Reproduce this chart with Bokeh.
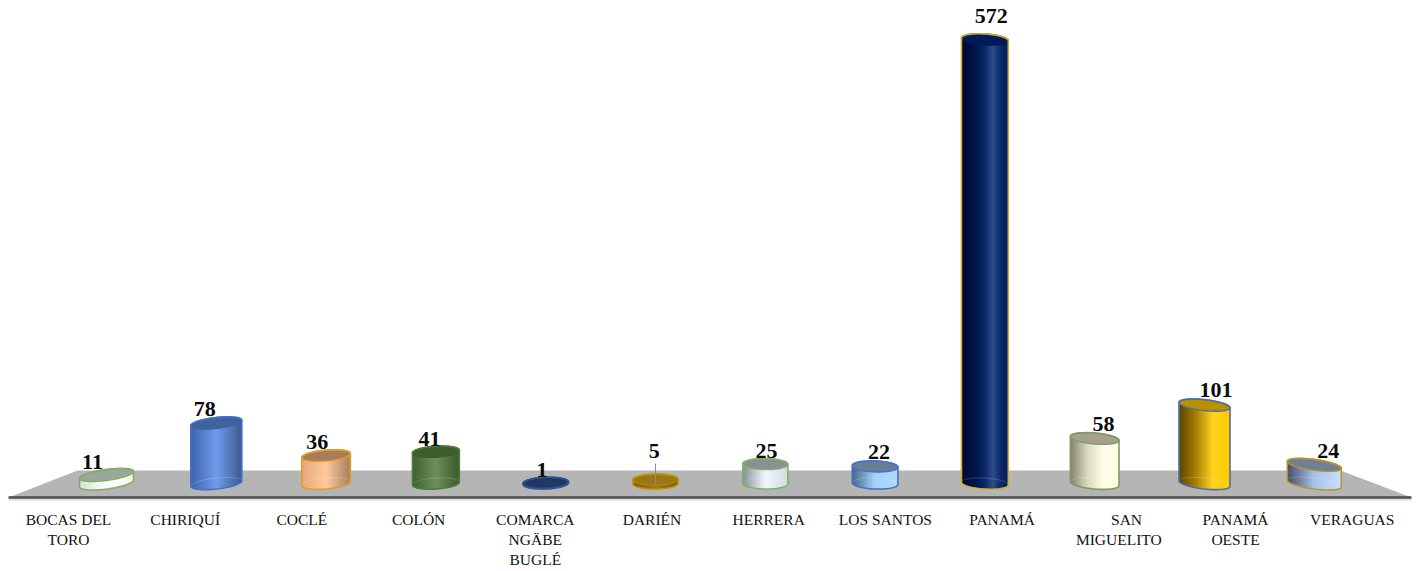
import numpy as np
from bokeh.plotting import figure
from bokeh.models import Range1d, LinearAxis, FixedTicker
from bokeh.core.properties import value
from bokeh.embed import file_html
from bokeh.resources import INLINE

# ---- data
regions = ["BOCAS DEL\nTORO", "CHIRIQUÍ", "COCLÉ", "COLÓN", "COMARCA\nNGÄBE\nBUGLÉ", "DARIÉN",
           "HERRERA", "LOS SANTOS", "PANAMÁ", "\u00a0\u00a0\u00a0\u00a0SAN\nMIGUELITO", "PANAMÁ\nOESTE", "VERAGUAS"]
cases = [11, 78, 36, 41, 1, 5, 25, 22, 572, 58, 101, 24]

# ---- styles: gradient stops of the body (left -> right), top cap, outline
body_stops = [
    ["#d5e0cc", "#ffffff", "#f4f8f0"],
    ["#3f63ad", "#6f9cec", "#3d5a90"],
    ["#e8a878", "#ffc99c", "#a67e60"],
    ["#3f5f30", "#6c9259", "#3c592c"],
    ["#203864", "#203864", "#203864"],
    ["#7a5c06", "#a07c14", "#7a5c06"],
    ["#878d96", "#f1f6fd", "#d5dae3"],
    ["#46678c", "#a5d2fa", "#aedafe"],
    ["#000a35", "#000f40", "#001850", "#0a2a66", "#2f4c8a", "#0c2a68", "#001c5c"],
    ["#84836c", "#d8d6bb", "#fffde4", "#fffde4"],
    ["#5a4300", "#a87f05", "#ffd51e", "#ffc800"],
    ["#474d66", "#a7c2ea", "#c8deff"],
]
cap_colors = ["#9aa89a", "#3f639f", "#a97d5c", "#3f5c2d", "#203864", "#9b7614",
              "#8a8f96", "#677f97", "#001a5a", "#a8a08c", "#b89000", "#6f7f98"]
edge_colors = ["#7fae63", "#4472c4", "#dca122", "#4e7a3a", "#2f5597", "#bf9000",
               "#7fb363", "#4472c4", "#d6a92c", "#7d9a62", "#4f6fa5", "#b8952a"]
cap_edges = ["#7fae63", "#3f639f", "#dca122", "#3f5c2d", "#2f5597", "#a98512",
             "#7fb363", "#4472c4", "#001a5a", "#7d9a62", "#4f6fa5", "#b8952a"]
label_lift = [13, 14, 14, 13, 13, 29, 13, 14, 23, 15, 15, 14]

# ---- scales (pixels per unit)
PX_X, PX_Y = 109.8, 0.778
FRAME_W, FRAME_H = 1419, 502
FIRST_BAR = 106
FIRST_LABEL, LABEL_STEP = 68, 116.7
BASE_PX = 18          # value 0 sits this far above the frame's bottom

x_range = Range1d(-FIRST_BAR / PX_X, (FRAME_W - FIRST_BAR) / PX_X)
y_range = Range1d(-BASE_PX / PX_Y, (FRAME_H - BASE_PX) / PX_Y)

p = figure(width=1419, height=571,
           x_range=x_range, y_range=y_range, x_axis_type=None, y_axis_type=None,
           output_backend="svg", toolbar_location=None, background_fill_color="white",
           border_fill_color="white", outline_line_color=None,
           min_border_left=0, min_border_right=0, min_border_top=0, min_border_bottom=69)
p.grid.visible = False

# ---- floor
left, right = x_range.start + 8 / PX_X, x_range.end - 8 / PX_X
front_y = y_range.start + 4 / PX_Y
back_y = front_y + 27 / PX_Y
p.patch([left, left + 69 / PX_X, right - 71 / PX_X, right],
        [front_y, back_y, back_y, front_y],
        fill_color="#b5b5b5", line_color=None)
p.segment([left], [front_y - 2 / PX_Y], [right], [front_y - 2 / PX_Y], line_color="#dcdcdc", line_width=2)
p.segment([left], [front_y], [right], [front_y], line_color="#4d4d4d", line_width=2.5)

# ---- category labels along the front of the floor
p.extra_x_ranges["front"] = Range1d(-FIRST_LABEL / LABEL_STEP, (FRAME_W - FIRST_LABEL) / LABEL_STEP)
axis = LinearAxis(x_range_name="front", ticker=FixedTicker(ticks=list(range(len(regions)))),
                  major_label_overrides={i: r for i, r in enumerate(regions)},
                  major_tick_line_color=None, minor_tick_line_color=None,
                  axis_line_color=None,
                  major_label_standoff=3,
                  major_label_text_font="Liberation Serif", major_label_text_font_size="15.5px",
                  major_label_text_color="#111111", major_label_text_line_height=1.2)
p.add_layout(axis, "below")


def mix(stops, f):
    pos = f * (len(stops) - 1)
    k = min(int(pos), len(stops) - 2)
    a = np.array([int(stops[k][j:j + 2], 16) for j in (1, 3, 5)])
    b = np.array([int(stops[k + 1][j:j + 2], 16) for j in (1, 3, 5)])
    c = a + (b - a) * (pos - k)
    return "#%02x%02x%02x" % tuple(int(round(v)) for v in c)


n = len(cases)
B = 5.5  # minor half-axis of the ellipses, px
strip_x, strip_y, strip_c = [], [], []
cap_x, cap_y, cap_c, cap_e = [], [], [], []
side_x, side_y, side_e = [], [], []
lab_x, lab_y, lab_t = [], [], []
base_x, base_y = [], []

for i, v in enumerate(cases):
    u = (i - (n - 1) / 2) / ((n - 1) / 2)
    hw = (45 + 9 * u * u) / 2
    tilt = -0.13 * u

    def ex(t):
        return i + t * hw / PX_X

    def ey(t, level, sign):
        return level + (tilt * t * hw + sign * B * np.sqrt(np.clip(1 - t * t, 0, 1))) / PX_Y

    ts = -np.cos(np.linspace(0, np.pi, 41))
    if v > 1:
        for j in range(len(ts) - 1):
            a, b, c = ts[j], ts[j + 1], ts[min(j + 2, len(ts) - 1)]
            f = ((a + b) / 2 + 1) / 2
            strip_x.append([ex(a), ex(b), ex(c), ex(c), ex(b), ex(a)])
            strip_y.append([ey(a, v, -1), ey(b, v, -1), ey(c, v, -1),
                            ey(c, 0, -1), ey(b, 0, -1), ey(a, 0, -1)])
            strip_c.append(mix(body_stops[i], f))
    side_x.append(list(ex(ts)) + list(ex(ts[::-1])))
    side_y.append(list(ey(ts, 0, -1)) + list(ey(ts[::-1], v, 1)))
    side_e.append(edge_colors[i])
    cap_x.append(list(ex(ts)) + list(ex(ts[::-1])))
    cap_y.append(list(ey(ts, v, -1)) + list(ey(ts[::-1], v, 1)))
    cap_c.append(cap_colors[i])
    cap_e.append(cap_edges[i])
    base_x.append(list(ex(ts)))
    base_y.append(list(ey(ts, 0, 1)))
    lab_x.append(i + 14 * u / PX_X)
    lab_y.append(v + label_lift[i] / PX_Y)
    lab_t.append(str(v))

p.patches(strip_x, strip_y, fill_color=strip_c, line_color=None)
p.multi_line(base_x, base_y, line_color="#ffffff", line_alpha=0.18, line_width=1)
p.patches(cap_x, cap_y, fill_color=cap_c, line_color=cap_e, line_width=1.4)
p.patches(side_x, side_y, fill_color=None, line_color=side_e, line_width=1.6)

# leader of the DARIÉN label
d = cases.index(5)
p.segment([d], [cases[d] - 5 / PX_Y], [d], [cases[d] + 16 / PX_Y], line_color="#8c8c8c", line_width=1)

p.text(lab_x, lab_y, text=lab_t, text_align="center", text_baseline="middle",
       text_font=value("Liberation Serif"), text_font_style="bold", text_font_size="22px",
       text_color="#0a0a0a")

open("out.html", "w").write(file_html(p, INLINE))
